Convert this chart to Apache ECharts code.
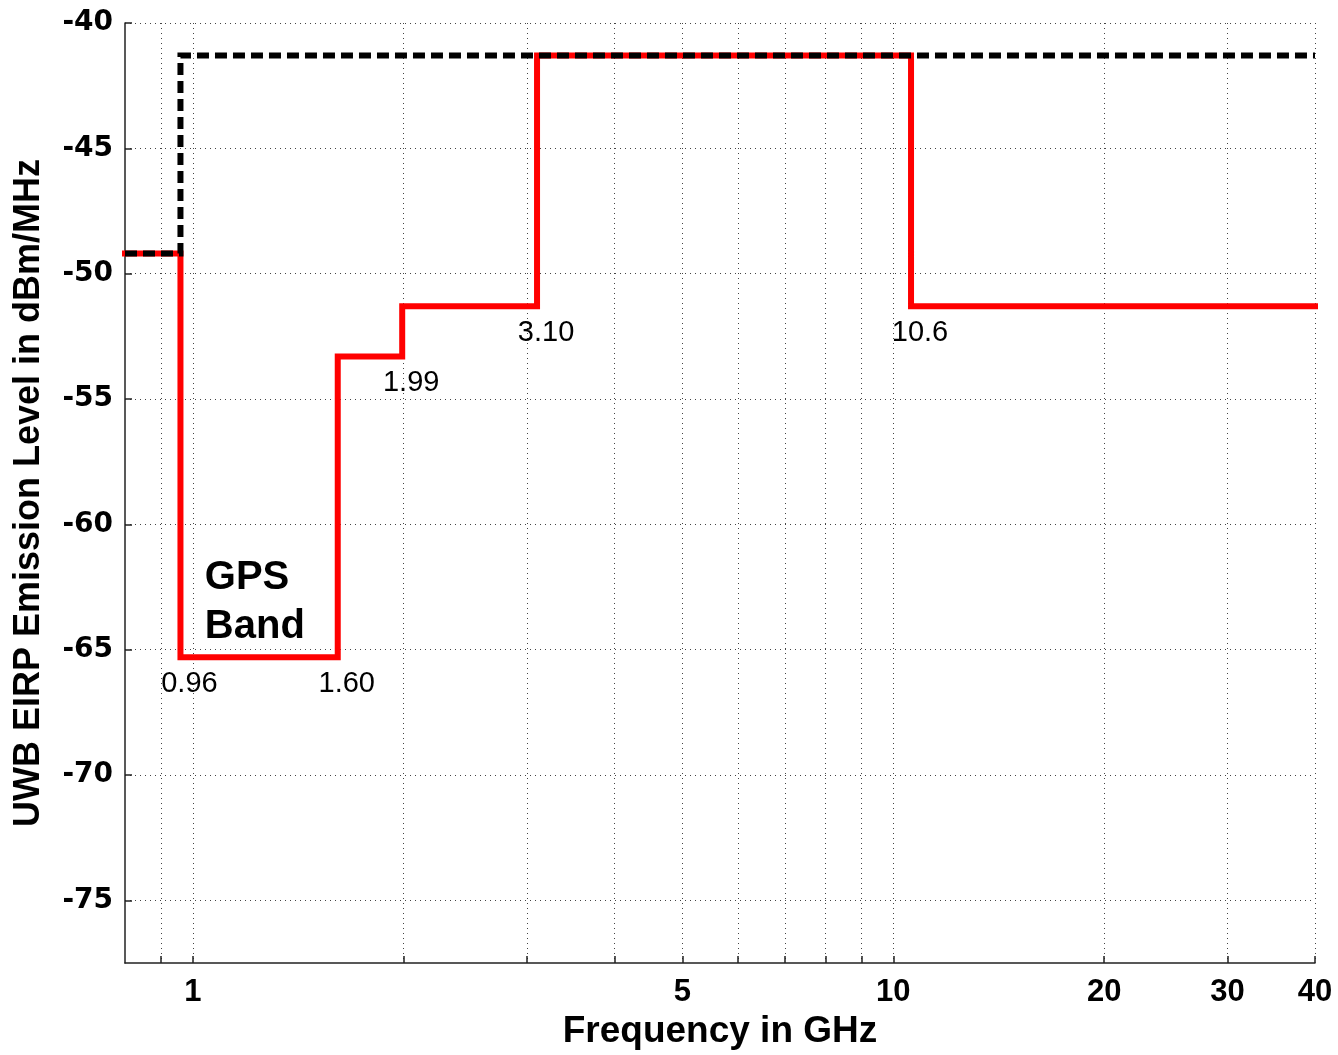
<!DOCTYPE html>
<html>
<head>
<meta charset="utf-8">
<script src="https://cdn.jsdelivr.net/npm/echarts@6/dist/echarts.min.js"></script>
<style>
  html, body { margin: 0; padding: 0; background: #fff; }
  #chart { width: 1338px; height: 1055px; }
</style>
</head>
<body>
<div id="chart"></div>
<script>
// limit mask: frequency edges (GHz) and the level that starts at each edge
const redFreq = [0.8, 0.96, 1.61, 1.99, 3.1, 10.6, 40];
const redLevel = [-49.2, -65.3, -53.3, -51.3, -41.3, -51.3, -51.3];
const blackFreq = [0.8, 0.96, 40];
const blackLevel = [-49.2, -41.3, -41.3];

// corner annotations
const noteText = ["0.96", "1.60", "1.99", "3.10", "10.6"];
const noteFreq = [0.96, 1.61, 1.99, 3.1, 10.6];
const noteLevel = [-65.3, -65.3, -53.3, -51.3, -51.3];

// axis ticks
const xGridFreq = [0.9, 1, 2, 3, 4, 5, 6, 7, 8, 9, 10, 20, 30, 40];
const xLabelFreq = [1, 5, 10, 20, 30, 40];
const yTicks = [-75, -70, -65, -60, -55, -50, -45, -40];

const FONT = "'Liberation Sans', Arial, sans-serif";
const lg = Math.log10;

const chart = echarts.init(document.getElementById("chart"));

const pts = (fs, ls) => fs.map((f, i) => [lg(f), ls[i]]);

const option = {
  animation: false,
  backgroundColor: "#fff",
  grid: { left: 125, right: 23, top: 23, bottom: 92 },
  xAxis: {
    type: "value",
    min: lg(0.8),
    max: lg(40),
    name: "Frequency in GHz",
    nameLocation: "middle",
    nameGap: 50,
    nameTextStyle: { fontFamily: FONT, fontSize: 37, fontWeight: "bold", color: "#000" },
    axisLine: { show: true, onZero: false, lineStyle: { color: "#222", width: 1.5 } },
    axisTick: {
      show: true,
      inside: true,
      length: 7,
      customValues: xGridFreq.map(lg),
      lineStyle: { color: "#222", width: 1.5 },
    },
    axisLabel: {
      customValues: xLabelFreq.map(lg),
      margin: 14,
      fontFamily: FONT,
      fontSize: 31,
      fontWeight: "bold",
      color: "#000",
      formatter: (v) => String(Math.round(Math.pow(10, v))),
    },
    splitLine: { show: true, lineStyle: { color: "#444", width: 1, type: [1, 4] } },
  },
  yAxis: {
    type: "value",
    min: -77.5,
    max: -40,
    name: "UWB EIRP Emission Level in dBm/MHz",
    nameLocation: "middle",
    nameGap: 78,
    nameTextStyle: { fontFamily: FONT, fontSize: 36, fontWeight: "bold", color: "#000" },
    axisLine: { show: true, onZero: false, lineStyle: { color: "#222", width: 1.5 } },
    axisTick: {
      show: true,
      inside: true,
      length: 7,
      customValues: yTicks,
      lineStyle: { color: "#222", width: 1.5 },
    },
    axisLabel: {
      customValues: yTicks,
      margin: 12,
      fontFamily: "'DejaVu Sans', " + FONT,
      fontSize: 28,
      fontWeight: "bold",
      color: "#000",
    },
    splitLine: { show: true, lineStyle: { color: "#444", width: 1, type: [1, 4] } },
  },
  series: [
    {
      name: "mask",
      type: "line",
      step: "end",
      data: pts(redFreq, redLevel),
      showSymbol: false,
      lineStyle: { color: "#ff0000", width: 6, cap: "square", join: "miter" },
      z: 2,
    },
    {
      name: "outdoor",
      type: "line",
      step: "end",
      data: pts(blackFreq, blackLevel),
      showSymbol: false,
      lineStyle: { color: "#000", width: 6, type: [12, 6], join: "miter" },
      z: 3,
    },
    {
      name: "notes",
      type: "scatter",
      silent: true,
      symbolSize: 0,
      itemStyle: { opacity: 1 },
      data: noteText.map((t, i) => ({ name: t, value: [lg(noteFreq[i]), noteLevel[i]] })),
      label: {
        show: true,
        position: "bottom",
        distance: 12,
        offset: [9, 0],
        formatter: "{b}",
        fontFamily: FONT,
        fontSize: 29,
        color: "#000",
        opacity: 1,
      },
      z: 4,
    },
    {
      name: "gps",
      type: "scatter",
      silent: true,
      symbolSize: 0,
      itemStyle: { opacity: 1 },
      data: [{ name: "GPS\nBand", value: [lg(1.04), -63.1] }],
      label: {
        show: true,
        position: "right",
        distance: 0,
        align: "left",
        formatter: "{b}",
        fontFamily: FONT,
        fontSize: 40,
        fontWeight: "bold",
        lineHeight: 49,
        color: "#000",
        opacity: 1,
      },
      z: 4,
    },
  ],
};

chart.setOption(option);
</script>
</body>
</html>
